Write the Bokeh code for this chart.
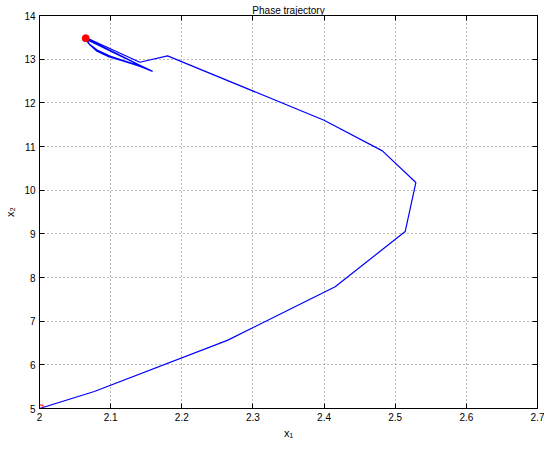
from bokeh.plotting import figure
from bokeh.models import Range1d, LinearAxis, FixedTicker
from bokeh.embed import file_html
from bokeh.resources import INLINE

# Trajectory data (x1, x2)
x1_vals = [2.000, 2.077, 2.264, 2.4156, 2.514, 2.529, 2.482, 2.400, 2.180,
           2.141, 2.105, 2.066,
           2.070, 2.080, 2.098, 2.117, 2.135, 2.145, 2.159,
           2.110, 2.064,
           2.069, 2.081, 2.099, 2.118, 2.137, 2.157,
           2.110, 2.065]
x2_vals = [5.00, 5.39, 6.56, 7.787, 9.053, 10.175, 10.90, 11.60, 13.076,
           12.93, 13.20, 13.49,
           13.34, 13.19, 13.05, 12.96, 12.87, 12.81, 12.72,
           13.10, 13.47,
           13.36, 13.21, 13.07, 12.97, 12.87, 12.73,
           13.12, 13.48]

x_ticks = [2.0, 2.1, 2.2, 2.3, 2.4, 2.5, 2.6, 2.7]
x_tick_labels = ["2", "2.1", "2.2", "2.3", "2.4", "2.5", "2.6", "2.7"]
y_ticks = [5, 6, 7, 8, 9, 10, 11, 12, 13, 14]

title_text = "Phase trajectory"
x_label = "x\u2081"
y_label = "x\u2082"

FONT = "Liberation Sans"

p = figure(width=544, height=443,
           x_range=Range1d(2.0, 2.7), y_range=Range1d(5, 14),
           output_backend="svg", toolbar_location=None,
           title=title_text,
           min_border_left=39, min_border_right=7,
           min_border_top=15, min_border_bottom=35)

p.title.align = "center"
p.title.text_font = FONT
p.title.text_font_size = "10px"
p.title.text_font_style = "normal"
p.title.text_color = "black"
p.title.offset = 0
p.title.standoff = 0

p.outline_line_color = "black"
p.outline_line_width = 1
p.outline_line_alpha = 1.0

for ax in (p.xaxis[0], p.yaxis[0]):
    ax.major_label_text_font = FONT
    ax.major_label_text_font_size = "10px"
    ax.major_label_text_color = "black"
    ax.axis_label_text_font = FONT
    ax.axis_label_text_font_size = "11px"
    ax.axis_label_text_font_style = "normal"
    ax.axis_label_text_color = "black"
    ax.major_tick_in = 5
    ax.major_tick_out = 0
    ax.minor_tick_in = 0
    ax.minor_tick_out = 0
    ax.axis_line_color = "black"
    ax.axis_line_width = 1
    ax.major_tick_line_color = "black"

p.xaxis[0].ticker = FixedTicker(ticks=x_ticks)
p.xaxis[0].major_label_overrides = {t: l for t, l in zip(x_ticks, x_tick_labels)}
p.xaxis[0].axis_label = x_label
p.xaxis[0].major_label_standoff = 4
p.xaxis[0].axis_label_standoff = 3

p.yaxis[0].ticker = FixedTicker(ticks=y_ticks)
p.yaxis[0].axis_label = y_label
p.yaxis[0].major_label_standoff = 4
p.yaxis[0].axis_label_standoff = 5

# Mirror axes (ticks only, no labels) on top and right
for loc, ticks in (("above", x_ticks), ("right", y_ticks)):
    ax = LinearAxis(ticker=FixedTicker(ticks=ticks))
    ax.major_label_overrides = {t: "" for t in ticks}
    ax.major_label_text_font_size = "10px"
    ax.major_label_standoff = 0
    ax.major_tick_in = 5
    ax.major_tick_out = 0
    ax.minor_tick_in = 0
    ax.minor_tick_out = 0
    ax.axis_line_color = "black"
    ax.major_tick_line_color = "black"
    p.add_layout(ax, loc)

p.grid.grid_line_color = "#555555"
p.grid.grid_line_dash = "1 3"
p.grid.grid_line_alpha = 0.8
p.xgrid.ticker = FixedTicker(ticks=x_ticks)
p.ygrid.ticker = FixedTicker(ticks=y_ticks)

p.line(x1_vals, x2_vals, line_color="#0000ff", line_width=1.2)

p.scatter([x1_vals[0]], [x2_vals[0]], marker="square", size=7,
          fill_color=None, line_color="red", line_width=1)
p.scatter([x1_vals[-1]], [x2_vals[-1]], marker="circle", size=7,
          fill_color="red", line_color="red")

open("out.html", "w").write(file_html(p, INLINE))
